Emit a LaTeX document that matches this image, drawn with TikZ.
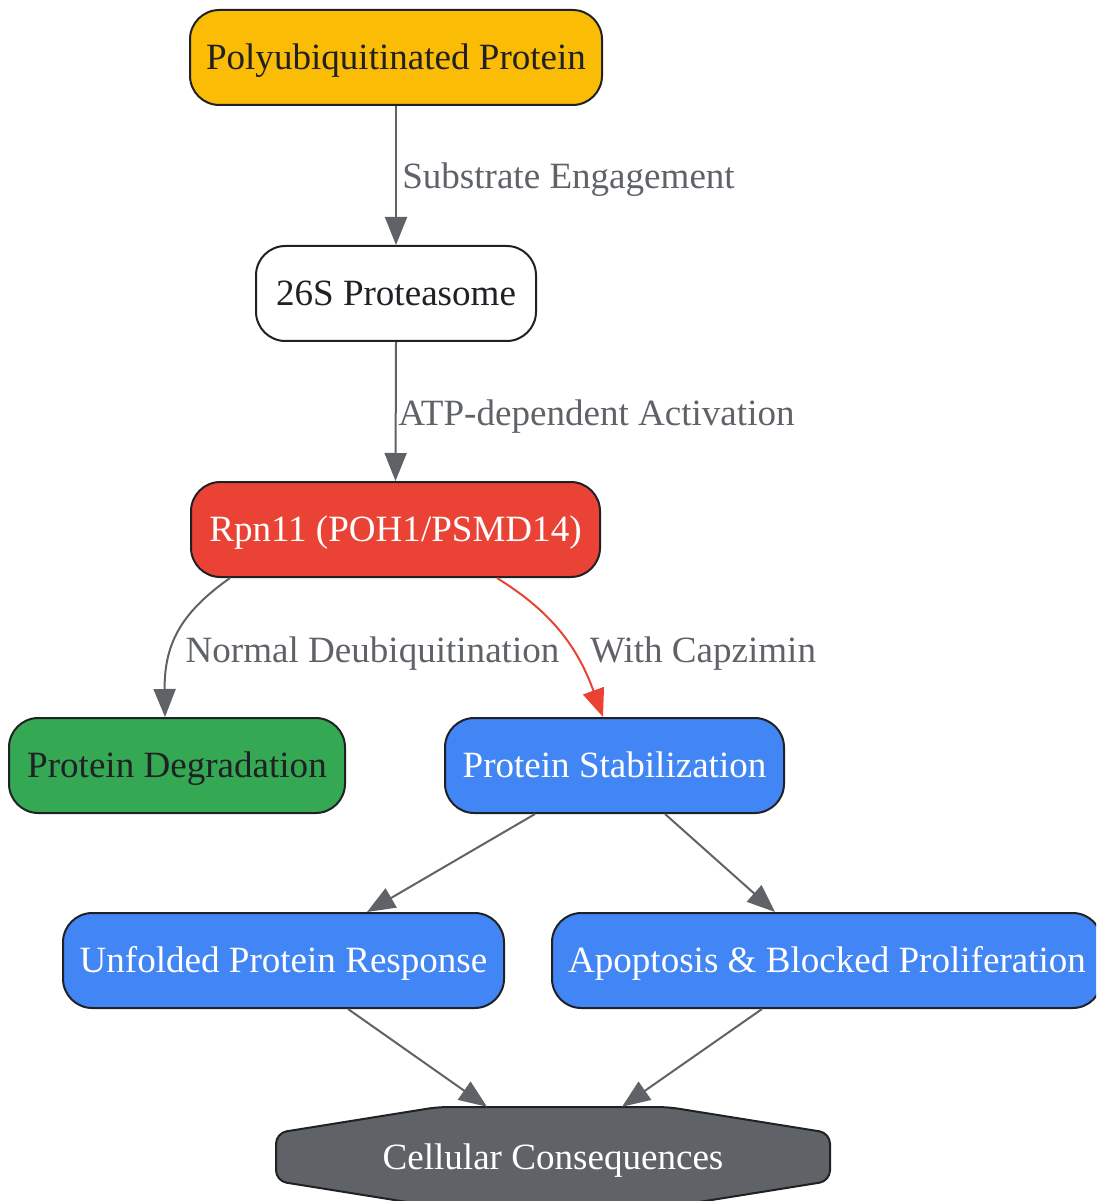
\documentclass[tikz,border=0pt]{standalone}
\usepackage{fontspec}
\setmainfont{Liberation Serif}
\usetikzlibrary{arrows.meta,calc}
\definecolor{ink}{HTML}{202124}
\definecolor{edgegray}{HTML}{5F6368}
\definecolor{gyellow}{HTML}{FBBC05}
\definecolor{gred}{HTML}{EA4335}
\definecolor{ggreen}{HTML}{34A853}
\definecolor{gblue}{HTML}{4285F4}
\tikzset{
  box/.style={draw=ink, line width=1.5pt, rounded corners=22pt, minimum height=71.25pt,
    inner sep=0pt, text height=18.4pt, text depth=0pt, font=\fontsize{27.8}{33}\selectfont},
  arr/.style={draw=edgegray, line width=1.5pt, -{Triangle[length=21pt,width=16.5pt]}},
  redarr/.style={draw=gred, line width=1.5pt, -{Triangle[length=21pt,width=16.5pt]}},
  elabel/.style={text=edgegray, font=\fontsize{27.8}{33}\selectfont, inner sep=0pt}
}
\begin{document}
\begin{tikzpicture}[x=0.75pt,y=-0.75pt]
\useasboundingbox (0,0) rectangle (1096,1201);
\clip (0,0) rectangle (1096,1201);
\node[box, fill=gyellow, text=ink, minimum width=309pt] (poly) at (396,57.5) {Polyubiquitinated Protein};
\node[box, fill=white, text=ink, minimum width=210pt] (s26) at (396,293.5) {26S Proteasome};
\node[box, fill=gred, text=white, minimum width=306.75pt] (rpn) at (395.5,529.5) {Rpn11 (POH1/PSMD14)};
\node[box, fill=ggreen, text=ink, minimum width=252pt] (deg) at (177,765.5) {Protein Degradation};
\node[box, fill=gblue, text=white, minimum width=254.25pt] (stab) at (614.5,765.5) {Protein Stabilization};
\node[box, fill=gblue, text=white, minimum width=330.75pt] (upr) at (283.5,960.5) {Unfolded Protein Response};
\node[box, fill=gblue, text=white, minimum width=412.5pt] (apop) at (827,960.5) {Apoptosis \& Blocked Proliferation};
% octagon outline of the final node
\draw[draw=ink, fill=edgegray, line width=1.5pt, rounded corners=8pt]
  (438,1107) -- (668,1107) -- (830,1133) -- (830,1181) -- (668,1207) -- (438,1207)
  -- (276,1181) -- (276,1133) -- cycle;
\node[inner sep=0pt, minimum width=415.5pt, minimum height=75pt, text=white,
  text height=18.4pt, text depth=0pt, font=\fontsize{27.8}{33}\selectfont]
  (cell) at (553,1157) {Cellular Consequences};

\draw[arr] (poly.south) -- (s26.north);
\node[elabel, anchor=base west] (l1) at (402,189) {Substrate Engagement};
\draw[arr] (s26.south) -- (rpn.north);
\node[elabel, anchor=base west] (l2) at (398,425) {ATP-dependent Activation};
\draw[arr] ($(rpn.south)+(-165.5,0)$) .. controls (185,610) and (164,640) .. ($(deg.north)+(-12,0)$);
\node[elabel, anchor=base] (l3) at (372.5,662) {Normal Deubiquitination};
\draw[redarr] ($(rpn.south)+(101.5,0)$) .. controls (545,608) and (575,640) .. ($(stab.north)+(-11.5,0)$);
\node[elabel, anchor=base] (l4) at (703,662) {With Capzimin};
\draw[arr] ($(stab.south)+(-79.5,0)$) -- ($(upr.north)+(83.5,0)$);
\draw[arr] ($(stab.south)+(50.5,0)$) -- ($(apop.north)+(-52,0)$);
\draw[arr] ($(upr.south)+(64.5,0)$) -- ($(cell.north)+(-66,0)$);
\draw[arr] ($(apop.south)+(-65,0)$) -- ($(cell.north)+(69,0)$);
\end{tikzpicture}
\end{document}
